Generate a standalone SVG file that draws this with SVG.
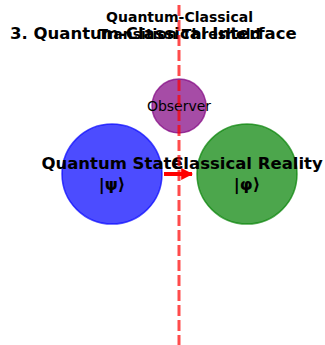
<svg xmlns="http://www.w3.org/2000/svg" width="325" height="345" viewBox="0 0 325 345">
<defs>
<style>
text{font-family:"DejaVu Sans",sans-serif;fill:#000}
.b{font-weight:bold}
.big{font-size:16.5px}
.sub{font-size:14px}
</style>
<marker id="ah" viewBox="0 0 10 10" refX="9" refY="5" markerWidth="3" markerHeight="3" orient="auto" markerUnits="strokeWidth">
<path d="M0,0 L10,5 L0,10 z" fill="#ff0000"/>
</marker>
</defs>
<rect width="325" height="345" fill="#ffffff"/>
<g id="title">
<text class="b big" x="10" y="39">3. Quantum-Classical Interface</text>
</g>
<g id="quantum">
<circle cx="112" cy="174" r="50" fill="#0000ff" fill-opacity="0.7" stroke="#0000ff" stroke-opacity="0.7" stroke-width="1.5"/>
<text class="b big" x="112" y="169" text-anchor="middle">Quantum State</text>
<text class="b big" x="112" y="190" text-anchor="middle">|ψ⟩</text>
</g>
<g id="classical">
<circle cx="247" cy="174" r="50" fill="#008000" fill-opacity="0.7" stroke="#008000" stroke-opacity="0.7" stroke-width="1.5"/>
<text class="b big" x="247" y="169" text-anchor="middle">Classical Reality</text>
<text class="b big" x="247" y="190" text-anchor="middle">|φ⟩</text>
</g>
<g id="observer">
<circle cx="179" cy="106" r="27" fill="#800080" fill-opacity="0.7" stroke="#800080" stroke-opacity="0.7" stroke-width="1.5"/>
<text x="179" y="111" font-size="14" text-anchor="middle">Observer</text>
</g>
<g id="connectors">
<line x1="179" y1="5" x2="179" y2="345" stroke="#ff0000" stroke-opacity="0.7" stroke-width="3" stroke-dasharray="11,4"/>
<line x1="164" y1="174" x2="192" y2="174" stroke="#ff0000" stroke-width="4" marker-end="url(#ah)"/>
</g>
<g id="threshold">
<text class="b sub" x="179.5" y="22" text-anchor="middle">Quantum-Classical</text>
<text class="b sub" x="179.5" y="39" text-anchor="middle">Transition Threshold</text>
</g>
</svg>
